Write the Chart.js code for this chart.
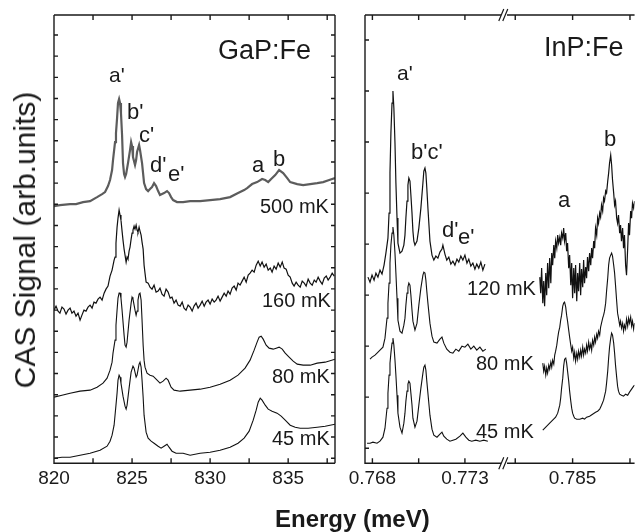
<!DOCTYPE html>
<html>
<head>
<meta charset="utf-8">
<script src="https://cdn.jsdelivr.net/npm/chart.js@4.4.1/dist/chart.umd.min.js"></script>
<style>
  html, body { margin: 0; padding: 0; background: #fff; }
  #wrap { position: relative; width: 635px; height: 532px; overflow: hidden;
          font-family: "Liberation Sans", Arial, sans-serif; color: #1a1a1a; }
  canvas { position: absolute; left: 0; top: 0; }
  .lbl { position: absolute; white-space: nowrap; line-height: 1; }
</style>
</head>
<body>
<div id="wrap">
  <canvas id="gap" width="635" height="532"></canvas>
  <canvas id="inp" width="635" height="532"></canvas>

  <div class="lbl" style="left:218px; top:37px; font-size:27px;">GaP:Fe</div>
  <div class="lbl" style="left:109px; top:64px; font-size:21px;">a'</div>
  <div class="lbl" style="left:127px; top:101px; font-size:22px;">b'</div>
  <div class="lbl" style="left:139px; top:124px; font-size:22px;">c'</div>
  <div class="lbl" style="left:150px; top:154px; font-size:22px;">d'</div>
  <div class="lbl" style="left:168px; top:163px; font-size:22px;">e'</div>
  <div class="lbl" style="left:252px; top:154px; font-size:22px;">a</div>
  <div class="lbl" style="left:273px; top:148px; font-size:22px;">b</div>
  <div class="lbl" style="left:260px; top:196px; font-size:20px;">500 mK</div>
  <div class="lbl" style="left:262px; top:290px; font-size:20px;">160 mK</div>
  <div class="lbl" style="left:272px; top:366px; font-size:20px;">80 mK</div>
  <div class="lbl" style="left:272px; top:428px; font-size:20px;">45 mK</div>

  <div class="lbl" style="left:544px; top:34px; font-size:27px;">InP:Fe</div>
  <div class="lbl" style="left:397px; top:62px; font-size:21px;">a'</div>
  <div class="lbl" style="left:411px; top:141px; font-size:22px;">b'c'</div>
  <div class="lbl" style="left:442px; top:219px; font-size:22px;">d'</div>
  <div class="lbl" style="left:458px; top:226px; font-size:22px;">e'</div>
  <div class="lbl" style="left:558px; top:189px; font-size:22px;">a</div>
  <div class="lbl" style="left:604px; top:128px; font-size:22px;">b</div>
  <div class="lbl" style="left:467px; top:278px; font-size:20px;">120 mK</div>
  <div class="lbl" style="left:476px; top:353px; font-size:20px;">80 mK</div>
  <div class="lbl" style="left:476px; top:421px; font-size:20px;">45 mK</div>

  <div class="lbl" style="left:275px; top:507px; font-size:24px; font-weight:bold;">Energy (meV)</div>
  <div class="lbl" style="left:25px; top:240px; font-size:30px; transform:translate(-50%,-50%) rotate(-90deg);">CAS Signal (arb.units)</div>
</div>

<script>
// ---- GaP:Fe panel: [energy (meV), signal (arb. units)] ----
const gapTicks = [820, 822.5, 825, 827.5, 830, 832.5, 835, 837.5];
const gapTickLabels = [820, 825, 830, 835];

const gap500 = [[820.00,257],[820.38,258],[821.03,259],[821.41,259],[821.86,261],[822.31,262],[822.76,266],[823.08,269],[823.27,271],[823.46,277],[823.59,283],[823.72,293],[823.78,303],[823.91,321],[823.97,330],[824.04,345],[824.10,360],[824.17,364],[824.23,360],[824.29,350],[824.36,328],[824.42,300],[824.49,289],[824.55,286],[824.62,289],[824.74,300],[824.87,313],[824.94,321],[825.00,317],[825.06,306],[825.19,298],[825.26,303],[825.32,311],[825.45,318],[825.51,313],[825.64,300],[825.77,280],[825.90,274],[826.03,272],[826.15,274],[826.28,276],[826.41,280],[826.54,277],[826.67,272],[826.79,268],[826.92,269],[827.05,270],[827.24,272],[827.37,270],[827.50,266],[827.63,263],[827.88,261],[828.27,261],[828.72,262],[829.36,262],[830.00,263],[830.64,264],[831.28,266],[831.79,270],[832.18,273],[832.37,275],[832.69,279],[833.01,281],[833.33,284],[833.53,283],[833.72,281],[833.91,284],[834.17,288],[834.42,293],[834.68,290],[834.94,285],[835.13,281],[835.58,279],[835.96,278],[836.41,279],[836.86,280],[837.24,281],[837.63,283],[838.00,285]];

const gap160 = [[820.00,153],[820.13,157],[820.26,152],[820.38,150],[820.51,156],[820.64,154],[820.77,149],[820.90,153],[821.03,155],[821.15,150],[821.28,152],[821.41,147],[821.54,150],[821.67,143],[821.79,148],[821.92,153],[822.05,152],[822.18,156],[822.31,158],[822.44,155],[822.56,161],[822.69,160],[822.82,164],[822.95,166],[823.08,163],[823.21,170],[823.33,174],[823.46,177],[823.59,187],[823.72,193],[823.85,203],[823.91,206],[823.97,220],[824.04,236],[824.10,245],[824.17,253],[824.23,248],[824.29,243],[824.36,232],[824.42,223],[824.49,214],[824.55,208],[824.62,201],[824.68,206],[824.74,204],[824.81,212],[824.87,216],[824.94,224],[825.00,230],[825.06,233],[825.13,237],[825.19,234],[825.26,238],[825.32,233],[825.38,231],[825.45,236],[825.51,232],[825.58,228],[825.64,221],[825.71,214],[825.77,198],[825.83,190],[825.90,181],[826.03,180],[826.15,176],[826.28,174],[826.41,178],[826.54,171],[826.67,172],[826.79,175],[826.92,169],[827.05,167],[827.18,174],[827.31,171],[827.44,165],[827.56,166],[827.69,160],[827.82,163],[827.95,158],[828.08,157],[828.21,161],[828.33,155],[828.46,153],[828.59,158],[828.72,156],[828.85,152],[828.97,157],[829.10,160],[829.23,155],[829.36,158],[829.49,162],[829.62,157],[829.74,161],[829.87,163],[830.00,159],[830.13,164],[830.26,161],[830.38,163],[830.51,167],[830.64,162],[830.77,166],[830.90,170],[831.03,167],[831.15,172],[831.28,169],[831.41,175],[831.54,177],[831.67,173],[831.79,180],[831.92,178],[832.05,182],[832.18,186],[832.31,181],[832.44,188],[832.56,190],[832.69,193],[832.82,191],[832.95,198],[833.08,202],[833.21,197],[833.33,201],[833.46,196],[833.59,199],[833.72,193],[833.85,195],[833.97,191],[834.10,197],[834.23,194],[834.36,200],[834.49,196],[834.62,201],[834.74,195],[834.87,194],[835.00,188],[835.13,186],[835.26,180],[835.38,177],[835.51,181],[835.64,178],[835.77,176],[835.90,182],[836.03,180],[836.15,177],[836.28,184],[836.41,180],[836.54,178],[836.67,183],[836.79,181],[836.92,186],[837.05,182],[837.18,179],[837.31,185],[837.44,187],[837.56,183],[837.69,186],[837.82,190],[837.95,187]];

const gap80 = [[820.00,66],[820.51,68],[821.03,70],[821.67,72],[822.31,73],[822.76,76],[823.14,80],[823.40,85],[823.59,93],[823.72,101],[823.78,110],[823.91,123],[823.97,138],[824.04,153],[824.10,165],[824.17,170],[824.23,170],[824.29,165],[824.36,153],[824.49,128],[824.55,118],[824.62,116],[824.68,121],[824.81,143],[824.94,160],[825.00,166],[825.06,164],[825.19,153],[825.26,148],[825.32,152],[825.38,163],[825.45,169],[825.51,170],[825.58,163],[825.64,143],[825.71,118],[825.77,103],[825.83,96],[825.96,90],[826.15,88],[826.35,87],[826.54,84],[826.79,80],[826.99,82],[827.18,85],[827.31,83],[827.50,76],[827.69,73],[828.08,72],[828.72,73],[829.36,74],[830.00,76],[830.64,79],[831.28,83],[831.79,88],[832.24,95],[832.56,103],[832.82,113],[833.01,121],[833.14,126],[833.27,127],[833.40,124],[833.59,118],[833.78,115],[834.04,114],[834.23,115],[834.42,116],[834.62,114],[834.81,110],[835.06,106],[835.32,102],[835.58,99],[835.96,98],[836.41,98],[836.86,100],[837.37,101],[838.00,104]];

const gap45 = [[820.00,5],[820.51,6],[821.03,6],[821.67,8],[822.31,10],[822.95,13],[823.40,17],[823.59,22],[823.72,28],[823.85,38],[823.97,58],[824.04,70],[824.10,83],[824.17,88],[824.23,86],[824.29,80],[824.42,67],[824.55,57],[824.62,54],[824.68,58],[824.81,75],[824.94,91],[825.06,97],[825.13,95],[825.26,86],[825.32,88],[825.45,99],[825.51,101],[825.58,96],[825.64,83],[825.71,66],[825.77,48],[825.90,31],[826.03,25],[826.22,22],[826.41,20],[826.67,17],[826.86,15],[827.05,17],[827.24,19],[827.37,16],[827.56,12],[827.82,10],[828.27,10],[828.72,8],[829.36,10],[830.00,11],[830.64,13],[831.28,16],[831.79,20],[832.18,25],[832.50,32],[832.76,43],[832.95,53],[833.08,61],[833.21,65],[833.33,63],[833.53,58],[833.72,54],[833.97,52],[834.29,50],[834.55,47],[834.81,43],[835.13,38],[835.45,36],[835.77,35],[836.28,35],[836.86,36],[837.37,37],[838.00,39]];

// ---- InP:Fe panel, broken energy axis ----
const inpTicksLow = [0.768, 0.7705, 0.773];
const inpTicksHigh = [0.7825, 0.785, 0.7875];
const inpTickLabels = [0.768, 0.773, 0.785];

const inp120Low = [[0.76776,186],[0.76787,181],[0.76798,188],[0.76809,183],[0.76819,190],[0.76830,186],[0.76841,193],[0.76852,189],[0.76863,198],[0.76873,210],[0.76884,225],[0.76890,250],[0.76895,290],[0.76900,330],[0.76906,360],[0.76911,372],[0.76916,355],[0.76922,320],[0.76927,280],[0.76933,245],[0.76938,220],[0.76949,210],[0.76960,212],[0.76970,218],[0.76976,228],[0.76981,245],[0.76987,262],[0.76992,278],[0.76997,285],[0.77003,282],[0.77008,268],[0.77014,250],[0.77019,232],[0.77024,222],[0.77030,218],[0.77041,222],[0.77051,235],[0.77062,255],[0.77073,280],[0.77078,292],[0.77084,295],[0.77089,290],[0.77094,275],[0.77100,255],[0.77111,222],[0.77122,208],[0.77132,203],[0.77143,207],[0.77154,205],[0.77165,211],[0.77176,214],[0.77181,218],[0.77192,209],[0.77202,203],[0.77213,206],[0.77224,199],[0.77235,202],[0.77246,198],[0.77257,204],[0.77267,201],[0.77278,207],[0.77289,203],[0.77300,208],[0.77311,200],[0.77321,204],[0.77332,197],[0.77343,200],[0.77354,194],[0.77364,199],[0.77375,195],[0.77386,201],[0.77397,193],[0.77408,199]];

const inp80Low = [[0.76787,104],[0.76798,106],[0.76814,108],[0.76825,110],[0.76841,113],[0.76857,116],[0.76868,125],[0.76879,145],[0.76884,160],[0.76890,180],[0.76895,200],[0.76900,218],[0.76906,230],[0.76911,236],[0.76916,228],[0.76922,210],[0.76927,190],[0.76933,165],[0.76938,143],[0.76949,132],[0.76960,130],[0.76970,138],[0.76976,145],[0.76981,158],[0.76987,170],[0.76992,176],[0.76997,180],[0.77003,178],[0.77008,168],[0.77014,153],[0.77019,142],[0.77030,133],[0.77041,140],[0.77051,158],[0.77062,175],[0.77073,188],[0.77078,191],[0.77084,190],[0.77089,183],[0.77094,172],[0.77100,160],[0.77111,140],[0.77122,127],[0.77132,121],[0.77149,120],[0.77165,124],[0.77176,126],[0.77186,120],[0.77202,114],[0.77219,111],[0.77235,110],[0.77251,114],[0.77267,112],[0.77284,117],[0.77300,116],[0.77316,119],[0.77332,114],[0.77348,117],[0.77364,113],[0.77381,116],[0.77397,112],[0.77413,114]];

const inp45Low = [[0.76771,20],[0.76787,20],[0.76803,21],[0.76825,20],[0.76841,22],[0.76857,26],[0.76868,35],[0.76879,55],[0.76884,70],[0.76890,88],[0.76895,100],[0.76900,110],[0.76906,120],[0.76911,125],[0.76916,118],[0.76922,103],[0.76927,88],[0.76933,68],[0.76938,50],[0.76949,36],[0.76960,30],[0.76970,40],[0.76976,50],[0.76981,62],[0.76987,72],[0.76992,79],[0.76997,82],[0.77003,80],[0.77008,70],[0.77014,58],[0.77019,45],[0.77030,36],[0.77041,42],[0.77051,58],[0.77062,75],[0.77073,90],[0.77078,96],[0.77084,98],[0.77089,93],[0.77094,82],[0.77100,70],[0.77111,48],[0.77122,34],[0.77132,28],[0.77149,26],[0.77165,29],[0.77176,31],[0.77186,27],[0.77202,24],[0.77219,22],[0.77235,23],[0.77251,24],[0.77273,27],[0.77289,30],[0.77305,26],[0.77321,23],[0.77337,22],[0.77359,23],[0.77381,22],[0.77402,23],[0.77424,22]];

const inp120High = [[0.78357,186],[0.78361,170],[0.78365,195],[0.78370,160],[0.78374,182],[0.78378,157],[0.78383,190],[0.78387,168],[0.78391,200],[0.78396,175],[0.78400,205],[0.78405,180],[0.78409,210],[0.78413,198],[0.78418,218],[0.78422,205],[0.78426,222],[0.78431,215],[0.78435,228],[0.78439,220],[0.78444,226],[0.78448,218],[0.78452,230],[0.78457,225],[0.78461,235],[0.78465,222],[0.78470,230],[0.78474,212],[0.78478,220],[0.78483,195],[0.78487,208],[0.78492,178],[0.78496,200],[0.78500,165],[0.78505,195],[0.78509,170],[0.78513,198],[0.78518,162],[0.78522,190],[0.78526,172],[0.78531,200],[0.78535,168],[0.78539,194],[0.78544,176],[0.78548,203],[0.78552,180],[0.78557,196],[0.78561,185],[0.78565,206],[0.78570,192],[0.78574,210],[0.78579,198],[0.78583,215],[0.78587,205],[0.78592,222],[0.78596,215],[0.78600,235],[0.78605,228],[0.78609,245],[0.78613,240],[0.78618,250],[0.78622,246],[0.78626,258],[0.78631,252],[0.78635,265],[0.78639,262],[0.78644,272],[0.78648,270],[0.78653,282],[0.78657,290],[0.78661,300],[0.78666,308],[0.78670,298],[0.78674,283],[0.78679,270],[0.78683,258],[0.78687,262],[0.78692,245],[0.78696,240],[0.78700,248],[0.78705,230],[0.78709,238],[0.78713,222],[0.78718,235],[0.78722,215],[0.78726,228],[0.78731,198],[0.78735,188],[0.78740,215],[0.78744,240],[0.78748,228],[0.78753,252],[0.78757,245],[0.78761,260],[0.78766,255],[0.78770,262]];

const inp80High = [[0.78370,100],[0.78374,92],[0.78378,97],[0.78383,88],[0.78387,95],[0.78391,90],[0.78396,98],[0.78400,94],[0.78405,101],[0.78409,96],[0.78413,103],[0.78418,99],[0.78422,108],[0.78426,112],[0.78431,118],[0.78435,125],[0.78439,131],[0.78444,136],[0.78448,143],[0.78452,148],[0.78457,157],[0.78461,160],[0.78465,161],[0.78470,156],[0.78474,148],[0.78478,142],[0.78483,133],[0.78487,126],[0.78492,118],[0.78496,112],[0.78500,116],[0.78505,105],[0.78509,111],[0.78513,102],[0.78518,110],[0.78522,104],[0.78526,112],[0.78531,106],[0.78535,113],[0.78539,107],[0.78544,116],[0.78548,108],[0.78552,114],[0.78557,110],[0.78561,118],[0.78565,112],[0.78570,121],[0.78574,114],[0.78579,119],[0.78583,113],[0.78587,123],[0.78592,118],[0.78596,126],[0.78600,121],[0.78605,129],[0.78609,125],[0.78613,132],[0.78618,128],[0.78622,136],[0.78626,140],[0.78631,145],[0.78635,148],[0.78639,152],[0.78644,160],[0.78648,172],[0.78653,185],[0.78657,198],[0.78661,205],[0.78666,208],[0.78670,210],[0.78674,207],[0.78679,198],[0.78683,190],[0.78687,178],[0.78692,162],[0.78696,150],[0.78700,145],[0.78705,138],[0.78709,142],[0.78713,135],[0.78718,140],[0.78722,132],[0.78726,138],[0.78731,134],[0.78735,144],[0.78740,137],[0.78744,145],[0.78748,140],[0.78753,146],[0.78757,137],[0.78761,142],[0.78766,134],[0.78770,140]];

const inp45High = [[0.78370,33],[0.78383,36],[0.78400,40],[0.78413,43],[0.78426,46],[0.78435,50],[0.78444,58],[0.78448,65],[0.78452,75],[0.78457,85],[0.78461,97],[0.78465,104],[0.78470,105],[0.78474,100],[0.78478,92],[0.78483,82],[0.78487,72],[0.78492,62],[0.78496,55],[0.78500,50],[0.78505,47],[0.78509,45],[0.78518,44],[0.78531,44],[0.78544,45],[0.78552,44],[0.78561,46],[0.78574,47],[0.78587,49],[0.78600,51],[0.78609,52],[0.78618,54],[0.78626,58],[0.78635,63],[0.78644,72],[0.78648,80],[0.78653,92],[0.78657,105],[0.78661,116],[0.78666,125],[0.78670,130],[0.78674,128],[0.78679,120],[0.78683,110],[0.78687,98],[0.78692,86],[0.78696,77],[0.78700,72],[0.78705,69],[0.78713,68],[0.78722,67],[0.78731,69],[0.78740,68],[0.78748,71],[0.78757,74],[0.78766,77],[0.78770,78]];

const FONT = '"Liberation Sans", Arial, sans-serif';
const INK = '#1a1a1a';
Chart.defaults.font.family = FONT;
Chart.defaults.color = INK;

// frame, inward ticks on all sides, and the // axis break
const framePlugin = {
  id: 'frame',
  afterDatasetsDraw(chart, args, opts) {
    const { ctx, chartArea: a } = chart;
    const ys = chart.scales.y;
    ctx.save();
    ctx.strokeStyle = INK;
    ctx.lineWidth = 1.4;
    ctx.beginPath();
    ctx.moveTo(a.left, a.top); ctx.lineTo(a.right, a.top);
    ctx.moveTo(a.left, a.top); ctx.lineTo(a.left, a.bottom); ctx.lineTo(a.right, a.bottom);
    if (opts.rightEdge) { ctx.moveTo(a.right, a.top); ctx.lineTo(a.right, a.bottom); }
    opts.xIds.forEach(id => {
      const s = chart.scales[id];
      s.ticks.forEach(t => {
        const p = s.getPixelForValue(t.value);
        ctx.moveTo(p, a.bottom); ctx.lineTo(p, a.bottom - 5);
        ctx.moveTo(p, a.top); ctx.lineTo(p, a.top + 5);
      });
    });
    for (let v = opts.yStart; v < ys.max; v += opts.yStep) {
      const p = ys.getPixelForValue(v);
      ctx.moveTo(a.left, p); ctx.lineTo(a.left + 4, p);
      if (opts.rightEdge) { ctx.moveTo(a.right, p); ctx.lineTo(a.right - 4, p); }
    }
    ctx.stroke();
    if (opts.breakAfter) {
      const bx = chart.scales[opts.breakAfter].right;
      ctx.lineWidth = 1.2;
      [a.top, a.bottom].forEach(yy => {
        ctx.clearRect(bx - 3, yy - 2, 6, 4);
        ctx.beginPath();
        ctx.moveTo(bx - 5, yy + 6); ctx.lineTo(bx, yy - 6);
        ctx.moveTo(bx - 1, yy + 6); ctx.lineTo(bx + 4, yy - 6);
        ctx.stroke();
      });
    }
    ctx.restore();
  }
};

function line(data, opts = {}) {
  return Object.assign({
    data, borderColor: '#111', borderWidth: 1.1,
    pointRadius: 0, tension: 0, fill: false
  }, opts);
}

function xAxis(min, max, ticks, extra) {
  return Object.assign({
    type: 'linear', position: 'bottom', min, max,
    grid: { display: false }, border: { display: false },
    afterBuildTicks: s => { s.ticks = ticks.map(v => ({ value: v })); },
    ticks: {
      autoSkip: false, maxRotation: 0, minRotation: 0, padding: -4,
      color: INK, font: { size: 19, family: FONT },
      callback: v => (gapTickLabels.includes(v) || inpTickLabels.includes(v)) ? String(v) : ''
    }
  }, extra);
}

new Chart(document.getElementById('gap'), {
  type: 'line',
  data: {
    datasets: [
      line(gap500, { borderColor: '#5c5c5c', borderWidth: 2.2 }),
      line(gap160, { borderWidth: 1.2 }),
      line(gap80),
      line(gap45)
    ]
  },
  options: {
    responsive: false, animation: false,
    layout: { padding: { left: 54, right: 300, top: 15, bottom: 46 } },
    plugins: {
      legend: { display: false }, tooltip: { enabled: false },
      frame: { xIds: ['x'], yStart: 5, yStep: 21.15, rightEdge: true }
    },
    scales: {
      x: xAxis(820, 838, gapTicks),
      y: { display: false, min: 0, max: 448 }
    }
  },
  plugins: [framePlugin]
});

new Chart(document.getElementById('inp'), {
  type: 'line',
  data: {
    datasets: [
      line(inp120Low, { xAxisID: 'xa', borderWidth: 1.2 }),
      line(inp80Low, { xAxisID: 'xa' }),
      line(inp45Low, { xAxisID: 'xa' }),
      line(inp120High, { xAxisID: 'xb', borderWidth: 1.2 }),
      line(inp80High, { xAxisID: 'xb' }),
      line(inp45High, { xAxisID: 'xb' })
    ]
  },
  options: {
    responsive: false, animation: false,
    layout: { padding: { left: 365, right: 0, top: 15, bottom: 46 } },
    plugins: {
      legend: { display: false }, tooltip: { enabled: false },
      frame: { xIds: ['xa', 'xb'], yStart: 15, yStep: 51, rightEdge: false, breakAfter: 'xa' }
    },
    scales: {
      xa: xAxis(0.7676, 0.7751, inpTicksLow, { stack: 'energy', stackWeight: 139 }),
      xb: xAxis(0.782, 0.7877, inpTicksHigh, { stack: 'energy', stackWeight: 131 }),
      y: { display: false, min: 0, max: 448 }
    }
  },
  plugins: [framePlugin]
});
</script>
</body>
</html>
